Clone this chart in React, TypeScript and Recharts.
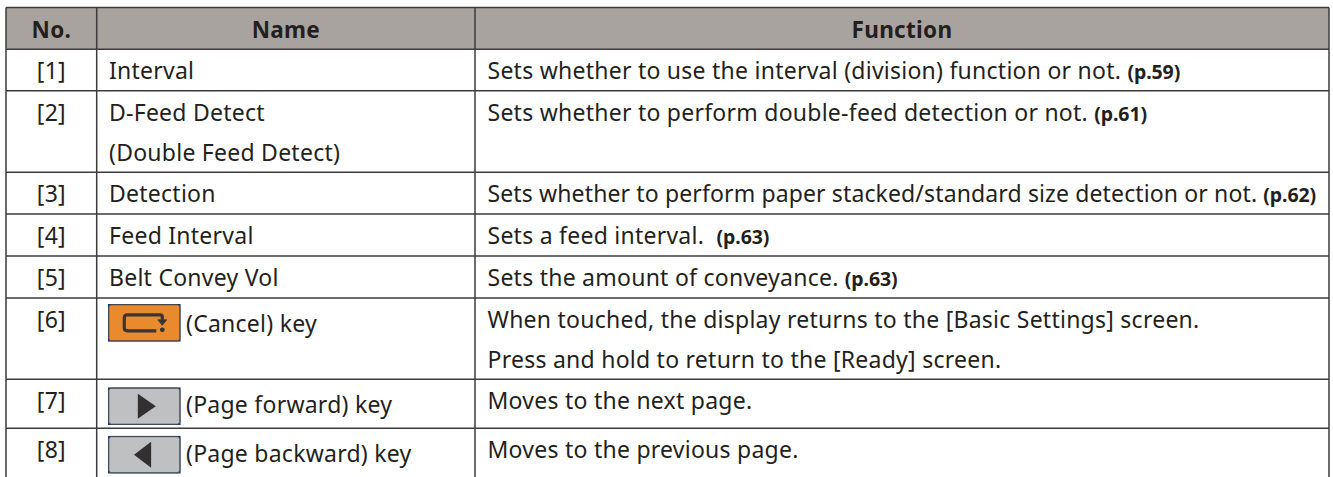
import { ReferenceArea, ReferenceLine, Scatter, ScatterChart, XAxis, YAxis } from "recharts";

const WIDTH = 1333;
const HEIGHT = 477;
const FONT = "'Noto Sans', sans-serif";
const INK = "#231f20";
const RULE = "#3d3b3b";

// table geometry
const columnEdges = [6, 96.7, 475, 1329];
const rowEdges = [7.5, 49.3, 90.7, 172.3, 214, 256, 298, 379.3, 428.3, 477];

const headers = ["No.", "Name", "Function"];
const rowNumbers = ["[1]", "[2]", "[3]", "[4]", "[5]", "[6]", "[7]", "[8]"];
const rowNames = [
  ["Interval"],
  ["D-Feed Detect", "(Double Feed Detect)"],
  ["Detection"],
  ["Feed Interval"],
  ["Belt Convey Vol"],
  ["(Cancel) key"],
  ["(Page forward) key"],
  ["(Page backward) key"],
];
const rowFunctions = [
  ["Sets whether to use the interval (division) function or not. "],
  ["Sets whether to perform double-feed detection or not. "],
  ["Sets whether to perform paper stacked/standard size detection or not. "],
  ["Sets a feed interval.  "],
  ["Sets the amount of conveyance. "],
  ["When touched, the display returns to the [Basic Settings] screen.", "Press and hold to return to the [Ready] screen."],
  ["Moves to the next page."],
  ["Moves to the previous page."],
];
const pageRefs = ["(p.59)", "(p.61)", "(p.62)", "(p.63)", "(p.63)", "", "", ""];
const keyRows = [5, 6, 7];
const keyKinds = ["cancel", "forward", "backward"];
const keyCenters = [322.8, 406.2, 454.7];

const LINE_GAP = 40;
const BASELINE = 30;
const KEY_X = 144.3;
const TRACKING = 0.25;
const TIGHT_ROW = 2; // the longest line runs a little tighter in the original

type Cell = { x: number; y: number; text: string; bold?: string; anchor?: string; weight?: number; tracking?: number };

const cells: Cell[] = [];
headers.forEach((text, i) => {
  cells.push({
    x: (columnEdges[i] + columnEdges[i + 1]) / 2,
    y: rowEdges[0] + 30.8,
    text,
    anchor: "middle",
    weight: 700,
  });
});
rowNumbers.forEach((text, i) => {
  const top = rowEdges[i + 1] + BASELINE;
  const isKey = keyRows.includes(i);
  cells.push({ x: (columnEdges[0] + columnEdges[1]) / 2, y: top, text, anchor: "middle" });
  const nameX = isKey ? 186 : 109;
  const nameY = isKey ? top + 3.5 : top;
  rowNames[i].forEach((line, j) => cells.push({ x: nameX, y: nameY + j * LINE_GAP, text: line }));
  rowFunctions[i].forEach((line, j) =>
    cells.push({
      x: 487.5,
      y: top + j * LINE_GAP,
      text: line,
      bold: j === 0 ? pageRefs[i] : "",
      tracking: i === TIGHT_ROW ? 0.13 : TRACKING,
    }),
  );
});

const keys = keyCenters.map((y, i) => ({ x: KEY_X, y, kind: keyKinds[i] }));

function CellText(props: any) {
  const { cx, cy, payload } = props;
  const bold = payload.weight === 700;
  return (
    <text
      x={cx}
      y={cy}
      textAnchor={payload.anchor || "start"}
      fontFamily={FONT}
      fontSize={bold ? 22.5 : 23}
      fontWeight={payload.weight || 400}
      fill={INK}
      letterSpacing={bold ? 0.3 : payload.tracking ?? TRACKING}
      style={{ whiteSpace: "pre" }}
    >
      {payload.text}
      {payload.bold ? (
        <tspan fontWeight={700} fontSize={19.5} letterSpacing={-0.1}>
          {payload.bold}
        </tspan>
      ) : null}
    </text>
  );
}

function KeyIcon(props: any) {
  const { cx, cy, payload } = props;
  const cancel = payload.kind === "cancel";
  return (
    <g transform={`translate(${cx},${cy})`}>
      <rect x={-36.3} y={-18.8} width={72.6} height={37.6} fill="#1f3a6b" />
      <rect x={-35.5} y={-18} width={71} height={36} rx={2.5} fill={cancel ? "#e98b2d" : "#bfc0c2"} stroke="#454444" strokeWidth={0.9} />
      {cancel && (
        <g fill="none" stroke="#3a3534" strokeWidth={3.2} strokeLinejoin="round">
          <path d="M 18 -3 V -6 Q 18 -8 16 -8 H -17 Q -20 -8 -20 -5 V 5 Q -20 8 -17 8 H 12" />
          <path d="M 13.5 -3 H 22.5 L 18 2.5 Z" fill="#3a3534" strokeWidth={0.8} />
          <circle cx={18} cy={7} r={1.6} fill="#3a3534" strokeWidth={1.6} />
        </g>
      )}
      {payload.kind === "forward" && <path d="M -6.5 -12.5 L 11.5 0 L -6.5 12.5 Z" fill="#333031" />}
      {payload.kind === "backward" && <path d="M 6.8 -13 L -10.3 0 L 6.8 13 Z" fill="#333031" />}
    </g>
  );
}

export default function App() {
  return (
    <div style={{ position: "absolute", left: 0, top: 0, width: WIDTH, height: HEIGHT, background: "#fff" }}>
      <ScatterChart width={WIDTH} height={HEIGHT} margin={{ top: 0, right: 0, bottom: 0, left: 0 }}>
        <XAxis type="number" dataKey="x" domain={[0, WIDTH]} hide />
        <YAxis type="number" dataKey="y" domain={[0, HEIGHT]} reversed hide />
        <ReferenceArea
          x1={columnEdges[0]}
          x2={columnEdges[3]}
          y1={rowEdges[0]}
          y2={rowEdges[1]}
          fill="#a8a39f"
          fillOpacity={1}
          stroke="none"
        />
        {rowEdges.slice(0, -1).map((y) => (
          <ReferenceLine
            key={y}
            segment={[
              { x: columnEdges[0], y },
              { x: columnEdges[3], y },
            ]}
            stroke={RULE}
            strokeWidth={1.5}
          />
        ))}
        {columnEdges.map((x) => (
          <ReferenceLine
            key={x}
            segment={[
              { x, y: rowEdges[0] },
              { x, y: HEIGHT },
            ]}
            stroke={RULE}
            strokeWidth={1.5}
          />
        ))}
        <Scatter data={cells} shape={CellText} isAnimationActive={false} />
        <Scatter data={keys} shape={KeyIcon} isAnimationActive={false} />
      </ScatterChart>
    </div>
  );
}
